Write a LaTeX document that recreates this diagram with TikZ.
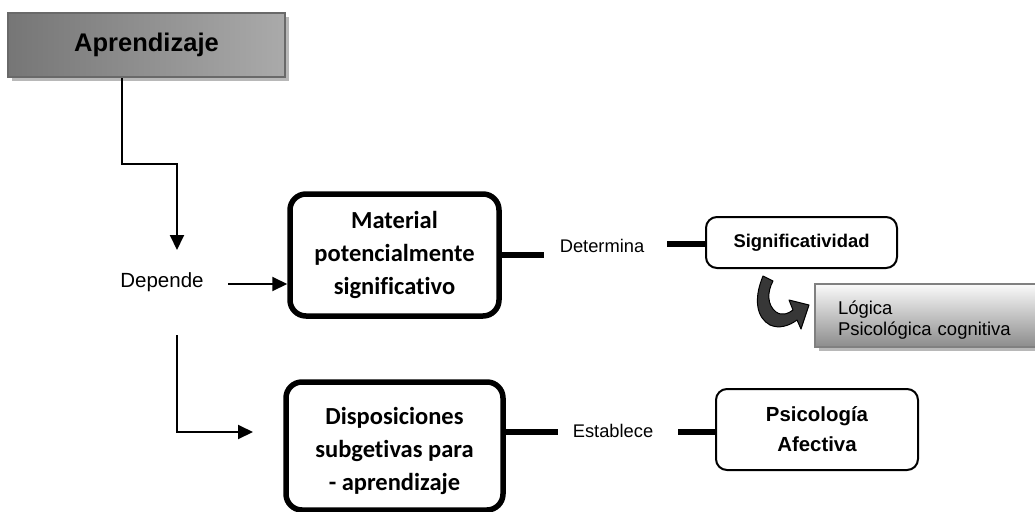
\documentclass[tikz,border=0pt]{standalone}
\usepackage{fontspec}
\setmainfont{Liberation Sans}
\newfontfamily\calibri[Ligatures=NoCommon]{Carlito}
\usetikzlibrary{arrows.meta,shadows}
\begin{document}
\begin{tikzpicture}[x=1pt,y=-1pt,
  arr/.style={line width=2pt,-{Triangle[length=15pt,width=14pt]}},
  thickline/.style={line width=5.5pt},
  bigbox/.style={draw,line width=5.5pt,rounded corners=16pt,align=center,inner sep=0pt,
    font=\calibri\bfseries\fontsize{24.5}{33}\selectfont},
  smallbox/.style={draw,line width=2pt,rounded corners=11pt,align=center,inner sep=0pt},
  lbl/.style={inner sep=0pt,font=\fontsize{18.3}{21}\selectfont},
  shadowed/.style={drop shadow={shadow xshift=4pt,shadow yshift=-4pt,fill=black!28,opacity=1}}
]
\useasboundingbox (0,0) rectangle (1035,511);

% Aprendizaje
\node[shadowed,draw={rgb,255:red,105;green,105;blue,105},line width=2pt,
  left color={rgb,255:red,118;green,118;blue,118},
  middle color={rgb,255:red,214;green,214;blue,214},
  right color={rgb,255:red,170;green,170;blue,170},
  minimum width=277pt,minimum height=64pt,inner sep=0pt,
  font=\bfseries\fontsize{25.5}{30}\selectfont] (aprend) at (146.5,45) {Aprendizaje};

% Depende
\node[inner sep=0pt,font=\fontsize{20.5}{24}\selectfont] (dep) at (162,282.5) {Depende};

% Main boxes
\node[bigbox,minimum width=209pt,minimum height=122pt] (mat) at (394.5,255)
  {Material\\potencialmente\\significativo};
\node[bigbox,minimum width=217pt,minimum height=128pt] (disp) at (394.5,446)
  {\rule{0pt}{28pt}Disposiciones\\subgetivas para\\- aprendizaje};

\node[smallbox,minimum width=191pt,minimum height=51pt,
  font=\bfseries\fontsize{18.4}{22}\selectfont] (sig) at (801.5,242.5) {Significatividad};
\node[smallbox,minimum width=202pt,minimum height=81pt,
  font=\bfseries\fontsize{20.4}{30}\selectfont] (psi) at (817,429.5) {Psicología\\Afectiva};

% Logica box
\node[shadowed,draw={rgb,255:red,128;green,128;blue,128},line width=2pt,
  top color={rgb,255:red,250;green,250;blue,250},
  bottom color={rgb,255:red,140;green,140;blue,140},
  text width=180pt,inner xsep=23pt,inner ysep=0pt,minimum height=63pt,align=left,
  font=\fontsize{18.5}{21.5}\selectfont] (log) at (928,315.5)
  {\rule{0pt}{23pt}Lógica\\Psicológica cognitiva};

% Labels
\node[lbl] (det) at (602,246.4) {Determina};
\node[lbl] (est) at (613,431.4) {Establece};

% Connectors
\coordinate (dtop) at (177,250);
\draw[arr] ([xshift=-24.5pt]aprend.south) -- ++(0,86) -| (dtop);
\coordinate (d1) at (228,284);
\draw[arr] (d1) -- (d1 -| mat.west);
\coordinate (d2) at (177,335);
\coordinate (d3) at (253,432);
\draw[arr] (d2) |- (d3);

\coordinate (m1) at (544,255);
\draw[thickline] (mat.east) -- (m1);
\coordinate (s1) at (667,244);
\coordinate (s2) at (706,244);
\draw[thickline] (s1) -- (s2);

\coordinate (e0) at (503,432);
\coordinate (e1) at (558,432);
\draw[thickline] (e0) -- (e1);
\coordinate (e2) at (678,432);
\coordinate (e3) at (716,432);
\draw[thickline] (e2) -- (e3);

% Curved arrow
\draw[fill={rgb,255:red,55;green,55;blue,55},draw=black,line width=1pt,line join=round]
  (763,276) -- (773,281)
  .. controls (767,292) and (767,305) .. (776,312)
  .. controls (782,316) and (788,314) .. (793,310)
  -- (789,300) -- (809,305) -- (801,329) -- (797,320)
  .. controls (789,326) and (779,329) .. (770,325)
  .. controls (757,318) and (753,300) .. cycle;
\end{tikzpicture}
\end{document}
